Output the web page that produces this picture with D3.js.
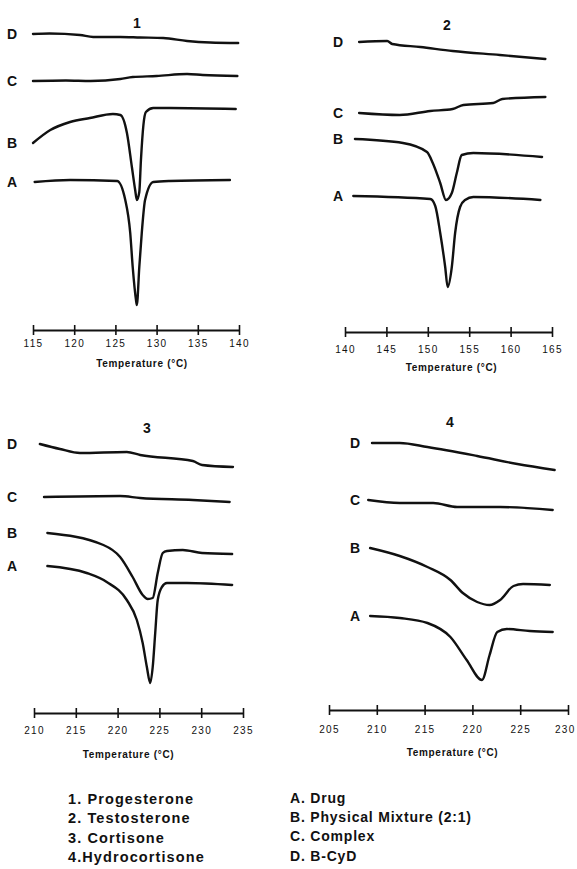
<!DOCTYPE html>
<html>
<head>
<meta charset="utf-8">
<title>DSC thermograms</title>
<script src="https://d3js.org/d3.v7.min.js"></script>
<style>
body { margin: 0; background: #fff; }
text { font-family: "Liberation Sans", Arial, sans-serif; fill: #111; }
</style>
</head>
<body>
<script>

// each trace: [temperature (°C), signal (arbitrary units, up = endo baseline)]
var curveNames = ["A", "B", "C", "D"];

// 1. Progesterone
var progTicks = [115, 120, 125, 130, 135, 140];
var progA = [[115.2,148],[119.5,150],[125.2,149],[126.2,130],[126.8,97],[127.1,63],[127.5,30],[127.6,25],[127.9,63],[128.2,97],[128.6,130],[129.6,148],[131.6,149],[138.9,150]];
var progB = [[115,187],[117.1,200],[119.5,208],[121.9,212],[124.7,216],[125.6,215],[126.4,197],[127.0,163],[127.4,140],[127.6,130],[127.9,138],[128.1,170],[128.4,205],[128.7,218],[129.6,222],[131.6,222],[139.6,221]];
var progC = [[115,249],[119,249.5],[122,249],[125.6,251],[127.1,253],[130,254],[133.7,256],[135.6,255],[139.8,254]];
var progD = [[115,296],[117,296.5],[120.7,295],[122.3,293],[125.6,293],[128,292.5],[130.8,292],[133.7,289],[136.5,287.5],[139.9,287]];

// 2. Testosterone
var testTicks = [140, 145, 150, 155, 160, 165];
var testA = [[141.0,136],[150.3,133],[150.9,126],[151.5,99],[152.1,65],[152.4,45],[152.9,65],[153.3,99],[153.9,125],[154.5,132],[155.5,135],[163.6,132]];
var testB = [[141.2,193],[147.0,189],[149.9,180],[150.6,169],[151.5,149],[152.2,132],[152.9,139],[153.5,159],[154.1,177],[155.5,179],[163.8,175]];
var testC = [[141.7,219],[146.6,217],[150.3,221],[153.0,223],[154.3,227],[157.9,229],[159.0,233],[164.2,235]];
var testD = [[141.7,290],[145.1,291],[145.7,288],[149.1,285],[153.0,281],[158.7,277],[164.2,273]];

// 3. Cortisone
var cortTicks = [210, 215, 220, 225, 230, 235];
var cortA = [[211.6,147],[216.3,140],[218.7,131],[221.1,113],[222.3,93],[223.0,70],[223.5,46],[223.9,30],[224.2,46],[224.5,80],[224.8,113],[225.3,126],[225.9,130],[228.3,130],[233.7,128]];
var cortB = [[211.6,180],[218.3,168],[220.3,156],[221.8,136],[223.0,118],[223.6,114],[224.2,115],[224.8,140],[225.4,160],[225.9,162],[227.8,163],[230.1,160],[233.7,159]];
var cortC = [[211.2,216],[220.3,217],[222.7,215],[229.0,213],[233.4,211]];
var cortD = [[210.7,269],[213.1,264],[215.5,260],[221.1,261],[222.7,258],[229.0,252],[230.1,248],[233.8,246]];

// 4. Hydrocortisone
var hydroTicks = [205, 210, 215, 220, 225, 230];
var hydroA = [[209.3,94],[212.4,92],[215.3,87],[217.7,73],[219.4,50],[221.0,30],[221.8,55],[222.6,78],[223.6,81],[226.0,79],[228.4,78]];
var hydroB = [[209.3,162],[212.4,154],[215.3,143],[217.7,130],[219.0,117],[220.5,108],[221.8,105],[222.9,110],[224.3,124],[225.3,126],[228.1,125]];
var hydroC = [[209.1,210],[212.4,207],[215.9,207],[218.4,203],[222.9,203],[228.4,200]];
var hydroD = [[209.5,267],[212.4,267],[215.3,263],[220.5,254],[224.7,246],[228.6,240]];

var drugNames = ["1. Progesterone", "2. Testosterone", "3. Cortisone", "4.Hydrocortisone"];
var sampleNames = ["A. Drug", "B. Physical Mixture (2:1)", "C. Complex", "D. B-CyD"];

// layout of the four panels
var panels = [
  { num: "1", ticks: progTicks, traces: [progA, progB, progC, progD], x0: 33, x1: 239, axisY: 330, labelX: 12, numX: 137, numY: 23, tickDy: 13, titleDy: 33, titleDx: 6 },
  { num: "2", ticks: testTicks, traces: [testA, testB, testC, testD], x0: 345, x1: 552, axisY: 332, labelX: 338, numX: 447, numY: 25, tickDy: 17, titleDy: 35, titleDx: 3 },
  { num: "3", ticks: cortTicks, traces: [cortA, cortB, cortC, cortD], x0: 34, x1: 243, axisY: 713, labelX: 12, numX: 147, numY: 428, tickDy: 17, titleDy: 41, titleDx: -10 },
  { num: "4", ticks: hydroTicks, traces: [hydroA, hydroB, hydroC, hydroD], x0: 329, x1: 568, axisY: 710, labelX: 355, numX: 450, numY: 422, tickDy: 19, titleDy: 42, titleDx: 4 }
];

var svg = d3.select("body").append("svg")
  .attr("width", 577)
  .attr("height", 869);

panels.forEach(function(p) {
  var x = d3.scaleLinear()
    .domain(d3.extent(p.ticks))
    .range([p.x0, p.x1]);
  var y = d3.scaleLinear()
    .domain([0, 320])
    .range([p.axisY, p.axisY - 320]);

  var g = svg.append("g");

  // axis with ticks crossing the line
  var ax = g.append("g")
    .attr("transform", "translate(0," + p.axisY + ")")
    .call(d3.axisBottom(x).tickValues(p.ticks).tickSizeOuter(0).tickSizeInner(5).tickPadding(0));
  ax.select(".domain").attr("stroke", "#111").attr("stroke-width", 2);
  ax.selectAll(".tick line").attr("y1", -5).attr("y2", 5).attr("stroke", "#111").attr("stroke-width", 1.6);
  ax.selectAll(".tick text").remove();
  ax.selectAll(".tick").append("text")
    .attr("y", p.tickDy)
    .attr("dy", "0.35em")
    .attr("text-anchor", "middle")
    .style("font-size", "10px")
    .style("letter-spacing", "1.3px")
    .style("fill", "#111")
    .text(function(d) { return d; })
    .each(function(d) {
      // keep labels inside the page
      var w = this.getComputedTextLength();
      var over = x(d) + w / 2 - 575;
      if (over > 0) d3.select(this).attr("x", -over);
    });

  g.append("text")
    .attr("x", (p.x0 + p.x1) / 2 + p.titleDx)
    .attr("y", p.axisY + p.titleDy)
    .attr("dy", "0.35em")
    .attr("text-anchor", "middle")
    .style("font-size", "10px")
    .style("font-weight", "bold")
    .style("letter-spacing", "0.7px")
    .text("Temperature (°C)");

  g.append("text")
    .attr("x", p.numX)
    .attr("y", p.numY)
    .attr("dy", "0.35em")
    .attr("text-anchor", "middle")
    .style("font-size", "14px")
    .style("font-weight", "bold")
    .text(p.num);

  var line = d3.line()
    .x(function(d) { return x(d[0]); })
    .y(function(d) { return y(d[1]); })
    .curve(d3.curveMonotoneX);

  p.traces.forEach(function(tr, i) {
    g.append("path")
      .datum(tr)
      .attr("fill", "none")
      .attr("stroke", "#111")
      .attr("stroke-width", 2.4)
      .attr("stroke-linejoin", "round")
      .attr("stroke-linecap", "round")
      .attr("d", line);

    g.append("text")
      .attr("x", p.labelX)
      .attr("y", y(tr[0][1]))
      .attr("dy", "0.35em")
      .attr("text-anchor", "middle")
      .style("font-size", "14px")
      .style("font-weight", "bold")
      .text(curveNames[i]);
  });
});

// legend
var leg = svg.append("g").style("font-weight", "bold");
leg.selectAll(".drug")
  .data(drugNames)
  .enter().append("text")
  .attr("x", 68)
  .attr("y", function(d, i) { return 804 + i * 19.3; })
  .style("font-size", "14.5px")
  .style("letter-spacing", "1.1px")
  .text(function(d) { return d; });
leg.selectAll(".sample")
  .data(sampleNames)
  .enter().append("text")
  .attr("x", 290)
  .attr("y", function(d, i) { return 803 + i * 19.2; })
  .style("font-size", "14px")
  .style("letter-spacing", "0.8px")
  .text(function(d) { return d; });

</script>
</body>
</html>
